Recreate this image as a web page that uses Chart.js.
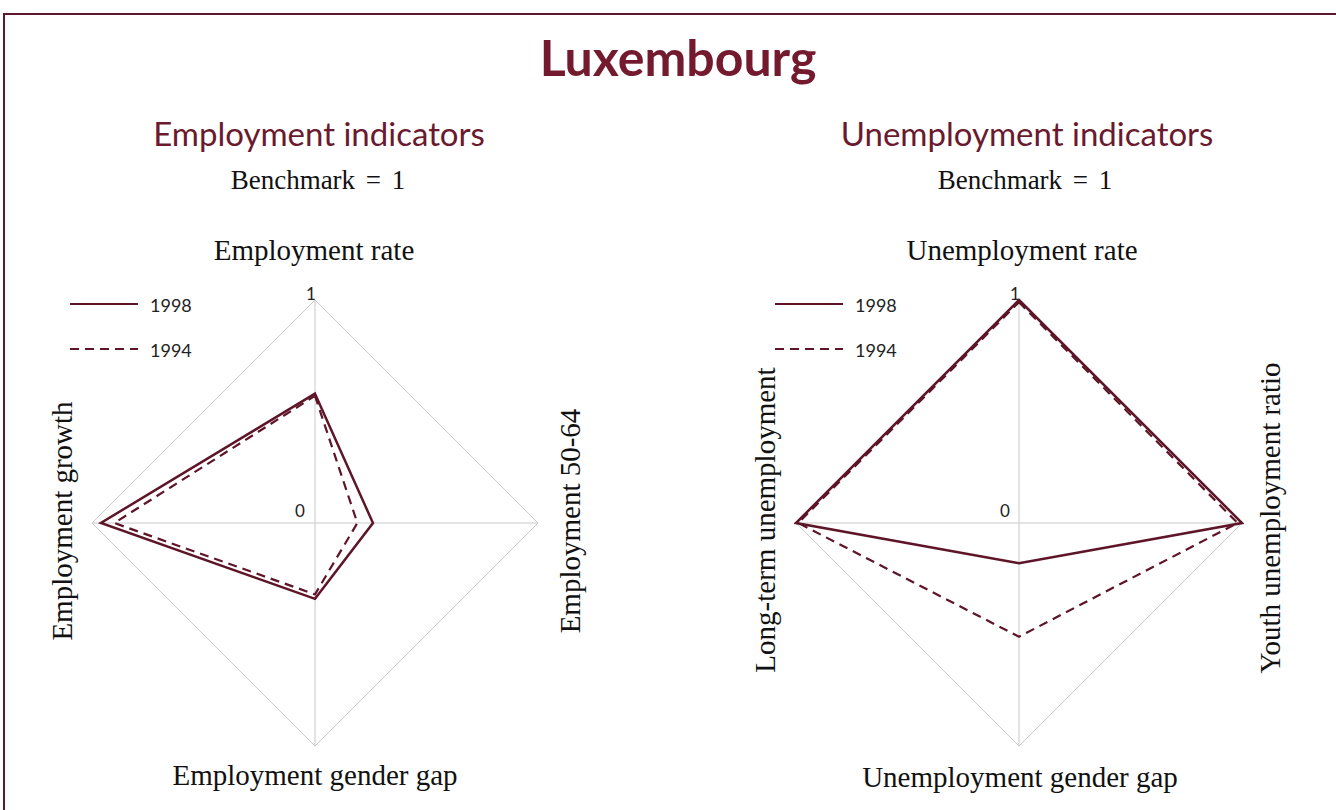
<!DOCTYPE html>
<html>
<head>
<meta charset="utf-8">
<script src="https://cdn.jsdelivr.net/npm/chart.js@4.4.0/dist/chart.umd.min.js"></script>
<style>
  html, body { margin: 0; padding: 0; background: #fff; }
  #page { position: relative; width: 1336px; height: 810px; overflow: hidden; background: #fff; }
  .frameTop { position: absolute; left: 3px; top: 13px; width: 1333px; height: 2px; background: #5e1a2c; }
  .frameLeft { position: absolute; left: 3px; top: 13px; width: 2px; height: 797px; background: #5e1a2c; }
  .t { position: absolute; white-space: nowrap; transform: translate(-50%, -50%); }
  .title { font-family: Lato, sans-serif; font-weight: 700; font-size: 50px; color: #741a2e; }
  .sub { font-family: Lato, sans-serif; font-size: 33px; color: #6a1a2e; }
  .bench { font-family: "Liberation Serif", serif; font-size: 27px; word-spacing: 4px; color: #111; }
  .axis { font-family: "Liberation Serif", serif; font-size: 29px; color: #111; }
  .rot { transform: translate(-50%, -50%) rotate(-90deg); }
  .tick { font-family: Lato, sans-serif; font-size: 17px; color: #222; }
  .leg { font-family: Lato, sans-serif; font-size: 18px; color: #222; transform: translate(0, -50%); }
  .ln { position: absolute; height: 2px; }
  .solid { background: #5e1528; }
  .dash { background: repeating-linear-gradient(to right, #5e1528 0 9px, transparent 9px 15px); }
  canvas { position: absolute; }
</style>
</head>
<body>
<div id="page">
  <div class="frameTop"></div>
  <div class="frameLeft"></div>
  <div class="t title" style="left:678px; top:57px;">Luxembourg</div>

  <div class="t sub" style="left:319px; top:133px;">Employment indicators</div>
  <div class="t bench" style="left:318px; top:180px;">Benchmark = 1</div>
  <div class="t axis" style="left:314px; top:250px;">Employment rate</div>
  <div class="t axis" style="left:315px; top:775px;">Employment gender gap</div>
  <div class="t axis rot" style="left:62px; top:521px;">Employment growth</div>
  <div class="t axis rot" style="left:570px; top:521px;">Employment 50-64</div>
  <div class="t tick" style="left:311px; top:293px;">1</div>
  <div class="t tick" style="left:300px; top:510px;">0</div>
  <div class="ln solid" style="left:70px; top:303px; width:68px;"></div>
  <div class="t leg" style="left:150px; top:305px;">1998</div>
  <div class="ln dash" style="left:70px; top:348px; width:68px;"></div>
  <div class="t leg" style="left:150px; top:350px;">1994</div>
  <canvas id="chartEmp" width="450" height="450" style="left:90px; top:298px;"></canvas>

  <div class="t sub" style="left:1027px; top:133px;">Unemployment indicators</div>
  <div class="t bench" style="left:1025px; top:180px;">Benchmark = 1</div>
  <div class="t axis" style="left:1022px; top:250px;">Unemployment rate</div>
  <div class="t axis" style="left:1020px; top:777px;">Unemployment gender gap</div>
  <div class="t axis rot" style="left:765px; top:520px;">Long-term unemployment</div>
  <div class="t axis rot" style="left:1270px; top:518px;">Youth unemployment ratio</div>
  <div class="t tick" style="left:1015px; top:293px;">1</div>
  <div class="t tick" style="left:1005px; top:510px;">0</div>
  <div class="ln solid" style="left:775px; top:303px; width:68px;"></div>
  <div class="t leg" style="left:855px; top:305px;">1998</div>
  <div class="ln dash" style="left:775px; top:348px; width:68px;"></div>
  <div class="t leg" style="left:855px; top:350px;">1994</div>
  <canvas id="chartUnemp" width="450" height="450" style="left:794px; top:298px;"></canvas>
</div>

<script>
// axes run clockwise from the top: top, right, bottom, left
var empCategories = ["Employment rate", "Employment 50-64", "Employment gender gap", "Employment growth"];
var emp1998 = [0.58, 0.26, 0.34, 0.96];
var emp1994 = [0.57, 0.19, 0.32, 0.90];

var unempCategories = ["Unemployment rate", "Youth unemployment ratio", "Unemployment gender gap", "Long-term unemployment"];
var unemp1998 = [1.0, 1.0, 0.18, 1.0];
var unemp1994 = [0.99, 0.98, 0.51, 0.99];

var seriesColor = "#5e1528";
var gridColor = "#c9c9c9";

function gerarRadar(idCanvas, categorias, valores1998, valores1994)
{
    var ctx = document.getElementById(idCanvas);
    return new Chart(ctx, {
        type: 'radar',
        data: {
            labels: categorias,
            datasets: [
                {
                    label: "1998",
                    data: valores1998,
                    borderColor: seriesColor,
                    borderWidth: 2.5,
                    backgroundColor: "rgba(0,0,0,0)",
                    fill: false,
                    pointRadius: 0,
                    tension: 0
                },
                {
                    label: "1994",
                    data: valores1994,
                    borderColor: seriesColor,
                    borderWidth: 2.2,
                    borderDash: [9, 6],
                    backgroundColor: "rgba(0,0,0,0)",
                    fill: false,
                    pointRadius: 0,
                    tension: 0
                }
            ]
        },
        options: {
            responsive: false,
            animation: false,
            layout: { padding: 2 },
            plugins: {
                legend: { display: false },
                tooltip: { enabled: false }
            },
            scales: {
                r: {
                    min: 0,
                    max: 1,
                    startAngle: 0,
                    ticks: { display: false, stepSize: 1 },
                    pointLabels: { display: false },
                    grid: { color: gridColor, lineWidth: 1 },
                    angleLines: { color: gridColor, lineWidth: 1 }
                }
            }
        }
    });
}

gerarRadar("chartEmp", empCategories, emp1998, emp1994);
gerarRadar("chartUnemp", unempCategories, unemp1998, unemp1994);
</script>
</body>
</html>
